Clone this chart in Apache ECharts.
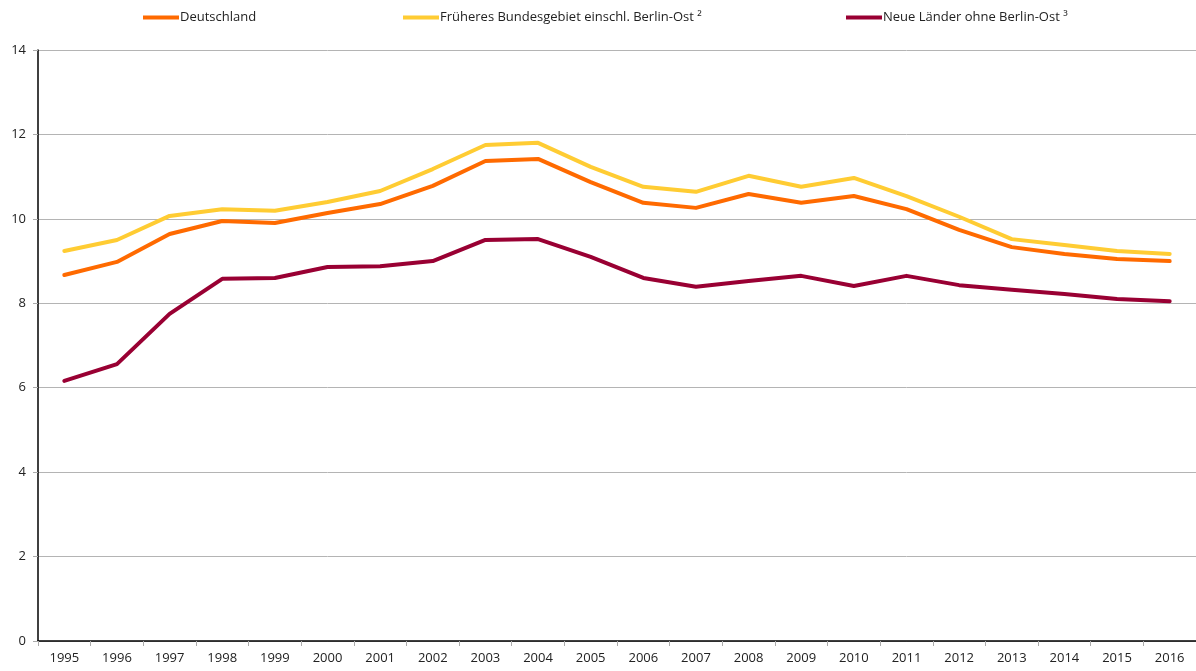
<!DOCTYPE html>
<html lang="de">
<head>
    <meta charset="UTF-8">
    <title>Chart</title>
    <script src="https://cdn.jsdelivr.net/npm/echarts@6/dist/echarts.min.js"></script>
    <style>
        html, body { margin: 0; padding: 0; background: #fff; }
        .box { width: 1196px; height: 671px; }
    </style>
</head>
<body>
<div id="chart" class="box"></div>
<script>
    var years = ['1995','1996','1997','1998','1999','2000','2001','2002','2003','2004','2005',
                 '2006','2007','2008','2009','2010','2011','2012','2013','2014','2015','2016'];
    var deutschland = [8.67, 8.98, 9.64, 9.95, 9.90, 10.14, 10.35, 10.78, 11.37, 11.42, 10.87,
                       10.38, 10.26, 10.59, 10.38, 10.54, 10.23, 9.74, 9.33, 9.17, 9.05, 9.00];
    var frueheres = [9.24, 9.50, 10.07, 10.23, 10.19, 10.40, 10.66, 11.18, 11.75, 11.80, 11.23,
                     10.76, 10.64, 11.02, 10.76, 10.97, 10.54, 10.05, 9.52, 9.38, 9.24, 9.17];
    var neueLaender = [6.16, 6.56, 7.75, 8.58, 8.60, 8.86, 8.88, 9.00, 9.50, 9.52, 9.10,
                       8.60, 8.39, 8.53, 8.65, 8.41, 8.65, 8.43, 8.32, 8.22, 8.10, 8.05];
    var names = ['Deutschland', 'Früheres Bundesgebiet einschl. Berlin-Ost ²', 'Neue Länder ohne Berlin-Ost ³'];

    var font = '"Open Sans", "Noto Sans", sans-serif';

    function line(name, data, color) {
        return {
            name: name,
            type: 'line',
            data: data,
            symbol: 'none',
            color: color,
            lineStyle: { width: 4, color: color, cap: 'round', join: 'round' }
        };
    }

    // one legend per entry, so each sits where it does in the original
    function legend(name, left) {
        return {
            left: left,
            top: 11,
            padding: 0,
            icon: 'rect',
            itemWidth: 36,
            itemHeight: 4,
            textStyle: { fontSize: 13, color: '#222', fontFamily: font, padding: [0, 0, 0, -4] },
            data: [name]
        };
    }

    var myChart = echarts.init(document.getElementById('chart'));
    var option = {
        animation: false,
        textStyle: { fontFamily: font },
        legend: [
            legend(names[0], 143),
            legend(names[1], 403),
            legend(names[2], 846)
        ],
        grid: { left: 38, right: 0, top: 50, bottom: 30, containLabel: false },
        xAxis: {
            type: 'category',
            data: years,
            boundaryGap: true,
            axisLine: { lineStyle: { color: '#000', width: 1.5 } },
            axisTick: { show: true, length: 5, lineStyle: { color: '#aaa' } },
            axisLabel: { color: '#222', fontSize: 13, margin: 11, fontFamily: font },
            splitLine: { show: false }
        },
        yAxis: {
            type: 'value',
            min: 0,
            max: 14,
            interval: 2,
            axisLine: { show: true, lineStyle: { color: '#000', width: 1.5 } },
            axisTick: { show: true, length: 5, lineStyle: { color: '#aaa' } },
            axisLabel: { color: '#222', fontSize: 13, margin: 12, fontFamily: font },
            splitLine: { show: true, lineStyle: { color: '#b4b4b4', width: 1 } }
        },
        series: [
            line(names[0], deutschland, '#ff6a00'),
            line(names[1], frueheres, '#ffcc33'),
            line(names[2], neueLaender, '#990033')
        ]
    };
    myChart.setOption(option);
</script>
</body>
</html>
